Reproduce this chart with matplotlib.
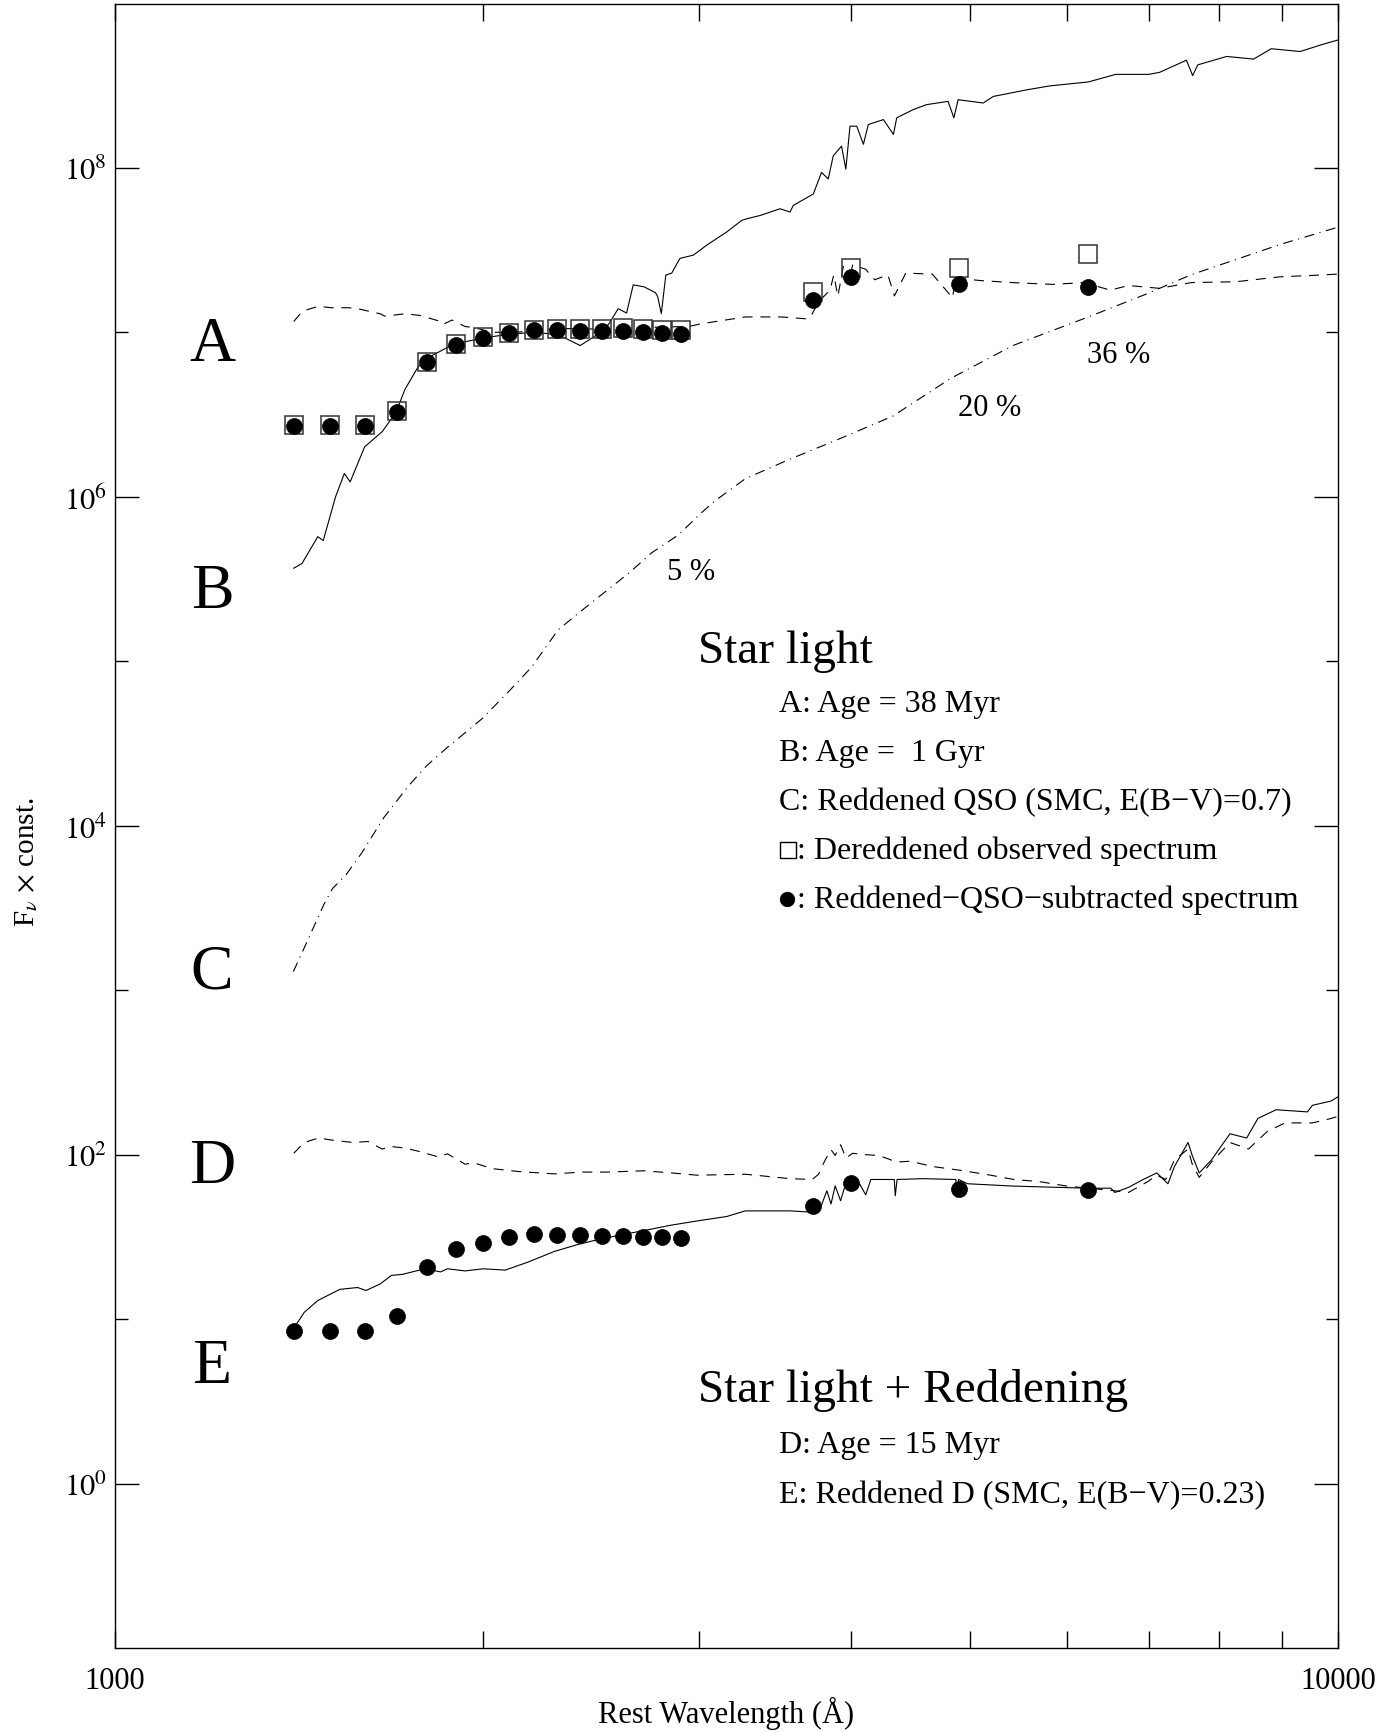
import numpy as np
import matplotlib
matplotlib.use('Agg')
import matplotlib.pyplot as plt
from matplotlib.lines import Line2D
from matplotlib.ticker import FixedLocator, FixedFormatter, NullFormatter

plt.rcParams['font.family'] = ['Liberation Serif', 'DejaVu Serif']
plt.rcParams['mathtext.fontset'] = 'stix'

# photometric points (rest wavelength, Angstrom)
phot_wl = [1400, 1500, 1600, 1700, 1800, 1900, 2000, 2100, 2200, 2300, 2400, 2500,
           2600, 2700, 2800, 2900, 3720, 4000, 4900, 6250]
a_dered = [2.72e6, 2.72e6, 2.72e6, 3.32e6, 6.61e6, 8.5e6, 9.4e6, 9.98e6, 1.04e7, 1.05e7,
           1.05e7, 1.05e7, 1.06e7, 1.05e7, 1.04e7, 1.04e7, 1.77e7, 2.47e7, 2.48e7, 3.00e7]
a_sub = [2.70e6, 2.70e6, 2.70e6, 3.30e6, 6.61e6, 8.42e6, 9.26e6, 9.93e6, 1.03e7, 1.03e7,
         1.02e7, 1.02e7, 1.02e7, 1.00e7, 9.90e6, 9.80e6, 1.57e7, 2.18e7, 1.98e7, 1.90e7]
e_sub = [8.46, 8.46, 8.46, 10.4, 20.8, 26.6, 29.0, 31.4, 32.7, 32.6, 32.4, 32.0,
         32.0, 31.6, 31.6, 31.0, 48.4, 67.7, 61.4, 60.7]

# A: 38 Myr (dashed, upper)
a_wl = [1400, 1423, 1467, 1502, 1553, 1586, 1648, 1662, 1726, 1777, 1837, 1853, 1886, 1933,
        1966, 2034, 2121, 2308, 2500, 2700, 2946, 3013, 3276, 3505, 3683, 3716, 3761, 3843,
        3870, 3900, 3940, 3980, 4010, 4110, 4180, 4285, 4338, 4432, 4660, 4840, 4866, 5103,
        5413, 5843, 6200, 6513, 6740, 7145, 7590, 8250, 8970, 9750, 10000]
a_logf = [7.066, 7.129, 7.159, 7.150, 7.150, 7.141, 7.113, 7.099, 7.113, 7.103, 7.071, 7.048,
          7.075, 7.036, 7.029, 7.001, 7.000, 7.024, 7.020, 7.030, 7.036, 7.052, 7.094, 7.094,
          7.082, 7.113, 7.187, 7.257, 7.35, 7.22, 7.40, 7.30, 7.41, 7.384, 7.32, 7.350, 7.222,
          7.361, 7.354, 7.21, 7.331, 7.315, 7.303, 7.292, 7.303, 7.257, 7.285, 7.268, 7.303,
          7.308, 7.338, 7.350, 7.355]

# B: 1 Gyr (solid, upper)
b_wl = [1400, 1422, 1465, 1480, 1515, 1540, 1557, 1600, 1654, 1697, 1726, 1770, 1807, 1869,
        1933, 2000, 2104, 2213, 2308, 2367, 2401, 2469, 2532, 2579, 2620, 2653, 2708, 2766,
        2778, 2797, 2821, 2852, 2897, 2971, 3046, 3164, 3254, 3285, 3369, 3498, 3564, 3586,
        3724, 3782, 3830, 3866, 3927, 3959, 3990, 4041, 4092, 4130, 4249, 4330, 4357, 4495,
        4609, 4799, 4852, 4891, 5128, 5226, 5565, 5813, 6250, 6580, 7000, 7145, 7517, 7606,
        7680, 8110, 8530, 8820, 9310, 9750, 10000]
b_logf = [5.566, 5.595, 5.758, 5.734, 6.002, 6.142, 6.091, 6.304, 6.397, 6.513, 6.653, 6.792,
          6.850, 6.908, 6.943, 6.966, 6.990, 7.001, 6.983, 6.943, 6.920, 6.978, 7.048, 7.144,
          7.118, 7.289, 7.277, 7.242, 7.218, 7.114, 7.349, 7.360, 7.450, 7.470, 7.530, 7.611,
          7.681, 7.691, 7.711, 7.752, 7.732, 7.772, 7.842, 7.973, 7.933, 8.073, 8.133, 7.993,
          8.254, 8.254, 8.144, 8.264, 8.294, 8.204, 8.305, 8.355, 8.385, 8.405, 8.305, 8.415,
          8.395, 8.435, 8.475, 8.499, 8.523, 8.569, 8.569, 8.581, 8.655, 8.562, 8.627, 8.678,
          8.662, 8.725, 8.708, 8.755, 8.778]

# C: reddened QSO (dash-dot)
c_wl = [1399, 1438, 1482, 1506, 1545, 1591, 1659, 1738, 1797, 1866, 1996, 2100, 2190, 2303,
        2443, 2635, 2747, 2889, 3013, 3090, 3276, 3565, 3875, 4323, 4822, 5422, 6250, 6970,
        7580, 8970, 10000]
c_logf = [3.113, 3.307, 3.522, 3.618, 3.702, 3.834, 4.050, 4.243, 4.363, 4.471, 4.651, 4.819,
          4.963, 5.191, 5.347, 5.540, 5.660, 5.769, 5.90, 5.972, 6.11, 6.23, 6.34, 6.49, 6.72,
          6.92, 7.094, 7.233, 7.350, 7.535, 7.640]

# D: 15 Myr (dashed, lower)
d_wl = [1400, 1428, 1467, 1509, 1566, 1610, 1654, 1680, 1726, 1770, 1837, 1870, 1933, 1966,
        2034, 2140, 2288, 2405, 2533, 2708, 2850, 2993, 3276, 3565, 3716, 3760, 3808, 3850,
        3880, 3920, 3960, 4010, 4110, 4213, 4357, 4470, 4660, 4940, 5200, 5430, 5700, 6000,
        6250, 6520, 6740, 6990, 7110, 7230, 7350, 7540, 7600, 7700, 7880, 8160, 8450, 8750,
        9050, 9530, 9870, 10000]
d_logf = [2.008, 2.074, 2.101, 2.087, 2.074, 2.080, 2.034, 2.050, 2.040, 2.021, 1.987, 2.005,
          1.942, 1.950, 1.915, 1.897, 1.883, 1.894, 1.894, 1.902, 1.889, 1.875, 1.881, 1.854,
          1.849, 1.880, 1.968, 2.03, 1.995, 2.06, 1.98, 2.008, 2.00, 1.995, 1.955, 1.960,
          1.928, 1.902, 1.875, 1.849, 1.836, 1.809, 1.796, 1.783, 1.770, 1.836, 1.875, 1.849,
          1.968, 2.034, 1.942, 1.862, 1.955, 2.074, 2.034, 2.140, 2.193, 2.193, 2.220, 2.233]

# E: reddened D (solid, lower)
e_wl = [1400, 1409, 1428, 1465, 1527, 1579, 1604, 1647, 1683, 1718, 1792, 1846, 1870, 1933,
        2000, 2085, 2175, 2288, 2386, 2490, 2619, 2731, 2848, 2993, 3164, 3276, 3565, 3716,
        3750, 3780, 3820, 3850, 3880, 3920, 3960, 4000, 4050, 4110, 4150, 4337, 4345, 4360,
        4580, 4870, 4880, 4895, 4980, 5420, 5910, 6250, 6520, 6570, 6740, 6930, 7110, 7260,
        7350, 7540, 7600, 7700, 7880, 8160, 8420, 8600, 8900, 9440, 9530, 9870, 10000]
e_logf = [0.96, 0.975, 1.041, 1.113, 1.181, 1.192, 1.174, 1.213, 1.266, 1.272, 1.306, 1.287,
          1.306, 1.293, 1.306, 1.298, 1.346, 1.412, 1.452, 1.486, 1.518, 1.544, 1.571, 1.597,
          1.624, 1.658, 1.658, 1.650, 1.72, 1.69, 1.78, 1.70, 1.81, 1.72, 1.83, 1.849, 1.84,
          1.756, 1.849, 1.849, 1.75, 1.849, 1.854, 1.849, 1.74, 1.849, 1.823, 1.809, 1.801,
          1.796, 1.796, 1.770, 1.801, 1.849, 1.889, 1.823, 1.928, 2.074, 1.995, 1.889, 1.968,
          2.127, 2.101, 2.220, 2.273, 2.260, 2.300, 2.326, 2.352]

y_major = [1e0, 1e2, 1e4, 1e6, 1e8]
y_major_labels = [r'$10^{0}$', r'$10^{2}$', r'$10^{4}$', r'$10^{6}$', r'$10^{8}$']
y_minor = [1e1, 1e3, 1e5, 1e7]
x_major = [1000, 10000]
x_minor = [2000, 3000, 4000, 5000, 6000, 7000, 8000, 9000]

W, H = 1398, 1733


def fpos(x, y):
    # pixel position in the figure -> figure fraction
    return x / W, 1 - y / H


fig = plt.figure(figsize=(W / 100, H / 100), dpi=100)
ax = fig.add_axes([115 / W, 84 / H, 1223 / W, 1644.5 / H])

lw = 0.8
ax.plot(b_wl, 10 ** np.array(b_logf), color='k', lw=lw)
ax.plot(a_wl, 10 ** np.array(a_logf), color='k', lw=lw, ls=(0, (9, 7)))
ax.plot(c_wl, 10 ** np.array(c_logf), color='k', lw=lw, ls=(0, (9, 5, 1, 5)))
ax.plot(d_wl, 10 ** np.array(d_logf), color='k', lw=lw, ls=(0, (9, 7)))
ax.plot(e_wl, 10 ** np.array(e_logf), color='k', lw=lw)

ax.plot(phot_wl, a_dered, ls='none', marker='s', ms=12.5, mfc='none', mec='#333333', mew=1.1)
ax.plot(phot_wl, a_sub, ls='none', marker='o', ms=11.5, mfc='k', mec='k', mew=0.5)
ax.plot(phot_wl, e_sub, ls='none', marker='o', ms=11.5, mfc='k', mec='k', mew=0.5)

ax.set_xscale('log')
ax.set_yscale('log')
ax.set_xlim(1000, 10000)
ax.set_ylim(0.1, 1e9)

ax.xaxis.set_major_locator(FixedLocator(x_major))
ax.xaxis.set_major_formatter(FixedFormatter(['1000', '10000']))
ax.xaxis.set_minor_locator(FixedLocator(x_minor))
ax.xaxis.set_minor_formatter(NullFormatter())
ax.yaxis.set_major_locator(FixedLocator(y_major))
ax.yaxis.set_major_formatter(FixedFormatter(y_major_labels))
ax.yaxis.set_minor_locator(FixedLocator(y_minor))
ax.yaxis.set_minor_formatter(NullFormatter())

ax.tick_params(which='both', direction='in', top=True, right=True, width=1.0, colors='k')
ax.tick_params(axis='x', which='major', length=12, pad=13, labelsize=22)
ax.tick_params(axis='x', which='minor', length=12)
ax.tick_params(axis='y', which='major', length=17, pad=6, labelsize=22)
ax.tick_params(axis='y', which='minor', length=9)
for s in ax.spines.values():
    s.set_linewidth(1.0)

# axis titles
fig.text(*fpos(726, 1723), 'Rest Wavelength (Å)', fontsize=22, ha='center', va='baseline')
fig.text(*fpos(27, 862), r'F$_\nu$ $\times$ const.', fontsize=21, rotation=90,
         ha='center', va='center')

# curve letters
for lab, y in [('A', 346), ('B', 593), ('C', 974), ('D', 1168), ('E', 1368)]:
    fig.text(*fpos(212, y), lab, fontsize=46, ha='center', va='center')

# percentage labels
fig.text(*fpos(667, 572), '5 %', fontsize=22, ha='left', va='center')
fig.text(*fpos(958, 408), '20 %', fontsize=22, ha='left', va='center')
fig.text(*fpos(1087, 356), '36 %', fontsize=22, ha='left', va='center')

# annotation blocks
fs = 23
fig.text(*fpos(698, 663), 'Star light', fontsize=34, ha='left', va='baseline')
fig.text(*fpos(779, 712), 'A: Age = 38 Myr', fontsize=fs, ha='left', va='baseline')
fig.text(*fpos(779, 761), 'B: Age =  1 Gyr', fontsize=fs, ha='left', va='baseline')
fig.text(*fpos(779, 810), 'C: Reddened QSO (SMC, E(B\u2212V)=0.7)', fontsize=fs,
         ha='left', va='baseline')
fig.text(*fpos(797, 859), ': Dereddened observed spectrum', fontsize=fs, ha='left', va='baseline')
fig.text(*fpos(797, 908), ': Reddened\u2212QSO\u2212subtracted spectrum', fontsize=fs,
         ha='left', va='baseline')
fig.add_artist(Line2D([788 / W], [1 - 851 / H], marker='s', ms=11.5, mfc='none', mec='k',
                      mew=1.0, transform=fig.transFigure))
fig.add_artist(Line2D([787 / W], [1 - 900 / H], marker='o', ms=10.5, mfc='k', mec='k',
                      mew=0.5, transform=fig.transFigure))

fig.text(*fpos(698, 1402), 'Star light + Reddening', fontsize=34, ha='left', va='baseline')
fig.text(*fpos(779, 1453), 'D: Age = 15 Myr', fontsize=fs, ha='left', va='baseline')
fig.text(*fpos(779, 1503), 'E: Reddened D (SMC, E(B\u2212V)=0.23)', fontsize=fs,
         ha='left', va='baseline')

fig.savefig('out.png', dpi=100)
